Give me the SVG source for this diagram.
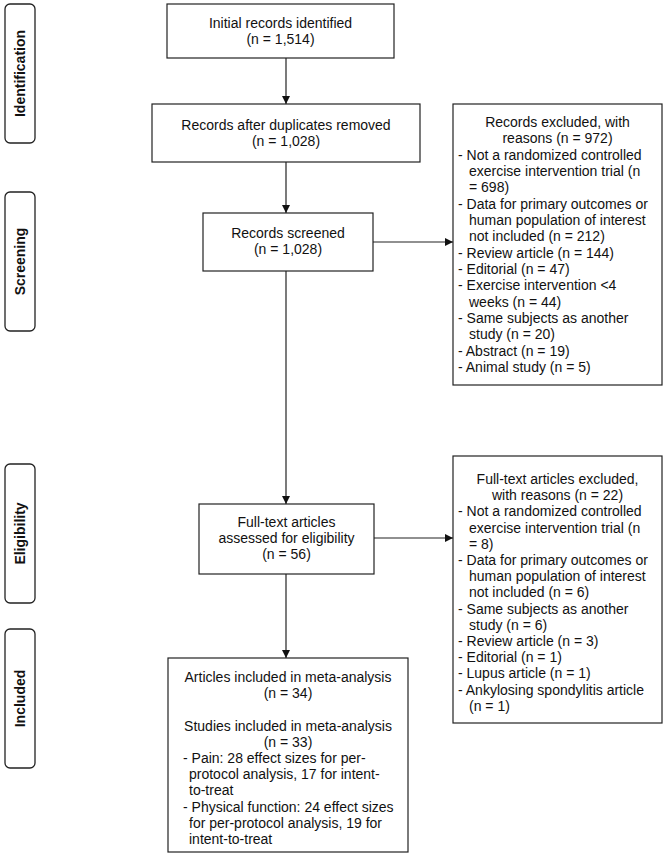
<svg xmlns="http://www.w3.org/2000/svg" width="667" height="867" viewBox="0 0 667 867">
<style>
  .box { fill: #ffffff; stroke: #222222; stroke-width: 1.2; }
  .lbl { fill: #ffffff; stroke: #222222; stroke-width: 1.3; }
  text { font-family: "Liberation Sans", Arial, sans-serif; font-size: 14px; fill: #111111; }
  .c { text-anchor: middle; }
  .side { font-weight: bold; text-anchor: middle; }
  .conn { stroke: #222222; stroke-width: 1.2; fill: none; }
</style>
<defs>
  <marker id="arr" markerUnits="userSpaceOnUse" markerWidth="8" markerHeight="8" refX="8" refY="4" orient="auto">
    <path d="M0,0 L8,4 L0,8 z" fill="#111111"/>
  </marker>
</defs>
<rect width="667" height="867" fill="#ffffff"/>

<g id="label-identification">
  <rect class="lbl" x="5" y="4" width="30" height="139" rx="5" ry="5"/>
  <text class="side" transform="translate(25,73.5) rotate(-90)">Identification</text>
</g>
<g id="label-screening">
  <rect class="lbl" x="5" y="192" width="30" height="139" rx="5" ry="5"/>
  <text class="side" transform="translate(25,261.5) rotate(-90)">Screening</text>
</g>
<g id="label-eligibility">
  <rect class="lbl" x="5" y="464" width="30" height="139" rx="5" ry="5"/>
  <text class="side" transform="translate(25,533.5) rotate(-90)">Eligibility</text>
</g>
<g id="label-included">
  <rect class="lbl" x="5" y="629" width="30" height="139" rx="5" ry="5"/>
  <text class="side" transform="translate(25,698.5) rotate(-90)">Included</text>
</g>

<g id="connectors">
  <line class="conn" x1="286" y1="58" x2="286" y2="104" marker-end="url(#arr)"/>
  <line class="conn" x1="286" y1="162" x2="286" y2="213" marker-end="url(#arr)"/>
  <line class="conn" x1="286" y1="271" x2="286" y2="504" marker-end="url(#arr)"/>
  <line class="conn" x1="286" y1="574" x2="286" y2="658" marker-end="url(#arr)"/>
  <line class="conn" x1="373" y1="242" x2="453" y2="242" marker-end="url(#arr)"/>
  <line class="conn" x1="374" y1="538" x2="453" y2="538" marker-end="url(#arr)"/>
</g>

<g id="node-initial">
  <rect class="box" x="167" y="4" width="227" height="54"/>
  <text class="c" x="280.5" y="28">Initial records identified</text>
  <text class="c" x="280.5" y="44">(n = 1,514)</text>
</g>
<g id="node-duplicates">
  <rect class="box" x="152" y="104" width="268" height="58"/>
  <text class="c" x="286" y="129.5">Records after duplicates removed</text>
  <text class="c" x="286" y="145.5">(n = 1,028)</text>
</g>
<g id="node-screened">
  <rect class="box" x="203" y="213" width="170" height="58"/>
  <text class="c" x="288" y="238">Records screened</text>
  <text class="c" x="288" y="254">(n = 1,028)</text>
</g>
<g id="node-fulltext">
  <rect class="box" x="199" y="504" width="175" height="70"/>
  <text class="c" x="286.5" y="526.5">Full-text articles</text>
  <text class="c" x="286.5" y="542.8">assessed for eligibility</text>
  <text class="c" x="286.5" y="559.1">(n = 56)</text>
</g>
<g id="node-included">
  <rect class="box" x="168" y="658" width="240" height="194"/>
  <text class="c" x="288" y="682">Articles included in meta-analysis</text>
  <text class="c" x="288" y="698">(n = 34)</text>
  <text class="c" x="288" y="730.5">Studies included in meta-analysis</text>
  <text class="c" x="288" y="746.5">(n = 33)</text>
  <text x="183" y="763">- Pain: 28 effect sizes for per-</text>
  <text x="189" y="779">protocol analysis, 17 for intent-</text>
  <text x="189" y="795">to-treat</text>
  <text x="183" y="811.5">- Physical function: 24 effect sizes</text>
  <text x="189" y="827.5">for per-protocol analysis, 19 for</text>
  <text x="189" y="843.5">intent-to-treat</text>
</g>
<g id="node-excluded-records">
  <rect class="box" x="453" y="104" width="209" height="281"/>
  <text class="c" x="557.5" y="127">Records excluded, with</text>
  <text class="c" x="557.5" y="143.3">reasons (n = 972)</text>
  <text x="458" y="159.7">- Not a randomized controlled</text>
  <text x="469" y="176">exercise intervention trial (n</text>
  <text x="469" y="192.3">= 698)</text>
  <text x="458" y="208.7">- Data for primary outcomes or</text>
  <text x="469" y="225">human population of interest</text>
  <text x="469" y="241.3">not included (n = 212)</text>
  <text x="458" y="257.6">- Review article (n = 144)</text>
  <text x="458" y="274">- Editorial (n = 47)</text>
  <text x="458" y="290.3">- Exercise intervention &lt;4</text>
  <text x="469" y="306.6">weeks (n = 44)</text>
  <text x="458" y="323">- Same subjects as another</text>
  <text x="469" y="339.3">study (n = 20)</text>
  <text x="458" y="355.6">- Abstract (n = 19)</text>
  <text x="458" y="372">- Animal study (n = 5)</text>
</g>
<g id="node-excluded-fulltext">
  <rect class="box" x="453" y="456" width="209" height="267"/>
  <text class="c" x="557.5" y="484">Full-text articles excluded,</text>
  <text class="c" x="557.5" y="500.2">with reasons (n = 22)</text>
  <text x="458" y="516.4">- Not a randomized controlled</text>
  <text x="469" y="532.6">exercise intervention trial (n</text>
  <text x="469" y="548.8">= 8)</text>
  <text x="458" y="565">- Data for primary outcomes or</text>
  <text x="469" y="581.2">human population of interest</text>
  <text x="469" y="597.4">not included (n = 6)</text>
  <text x="458" y="613.6">- Same subjects as another</text>
  <text x="469" y="629.8">study (n = 6)</text>
  <text x="458" y="646">- Review article (n = 3)</text>
  <text x="458" y="662.2">- Editorial (n = 1)</text>
  <text x="458" y="678.4">- Lupus article (n = 1)</text>
  <text x="458" y="694.6">- Ankylosing spondylitis article</text>
  <text x="469" y="710.8">(n = 1)</text>
</g>
</svg>
